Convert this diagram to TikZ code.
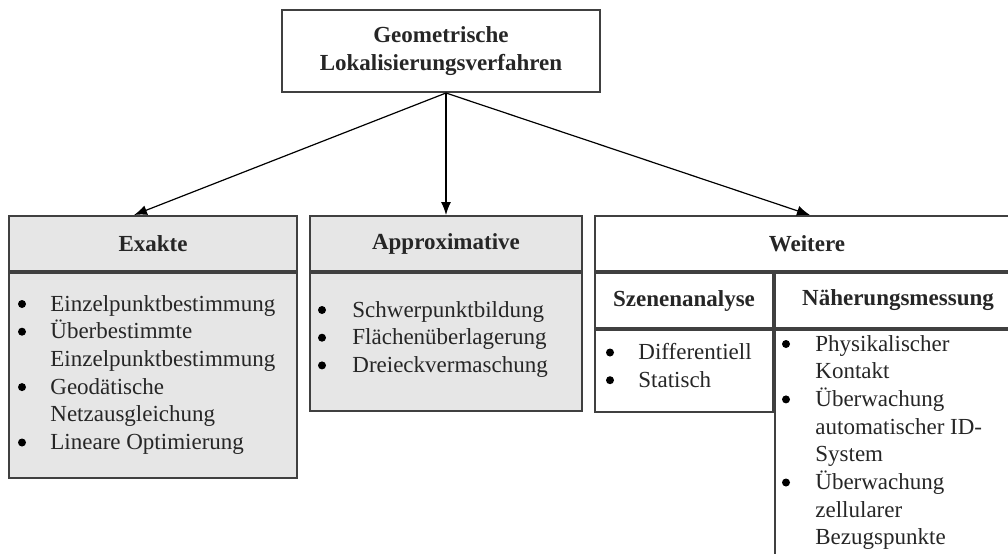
\documentclass[tikz,border=0pt]{standalone}
\usepackage{fontspec}
\setmainfont{Liberation Serif}
\usetikzlibrary{arrows.meta,positioning}
\definecolor{hellgrau}{HTML}{E6E6E6}
\begin{document}
\begin{tikzpicture}[x=0.5pt,y=-0.5pt,
  every node/.style={font=\fontsize{11.5}{14}\selectfont,text=black!85},
  rahmen/.style={draw=black!75,line width=1pt,inner sep=0pt},
  kasten/.style={rahmen,fill=hellgrau},
  kopf/.style={font=\fontsize{11.5}{14}\selectfont\bfseries},
  pfeil/.style={-{Latex[length=6.5pt,width=5pt]},line width=0.6pt},
  zeile/.style={anchor=base west,inner sep=0pt},
  punkt/.style={circle,fill=black,minimum size=4pt,inner sep=0pt}]
\useasboundingbox (0,0) rectangle (1008,553);
\clip (0,0) rectangle (1008,553);

% oberster Kasten
\node[rahmen,kopf,minimum width=159pt,minimum height=41pt,align=center] (geo) at (441,51) {Geometrische\\Lokalisierungsverfahren};

% Exakte
\node[kasten,kopf,minimum width=144pt,minimum height=27.5pt] (exakte) at (153,243.5) {Exakte};
\node[kasten,minimum width=144pt,minimum height=102.5pt,below=0pt of exakte] (exaktefeld) {};

% Approximative
\node[kasten,kopf,minimum width=136pt,minimum height=27.5pt] (approx) at (446,243.5) {Approximative};
\node[kasten,minimum width=136pt,minimum height=69pt,below=0pt of approx] (approxfeld) {};

% Weitere
\node[rahmen,kopf,minimum width=212pt,minimum height=27.5pt] (weitere) at (807,243.5) {Weitere};
\node[rahmen,kopf,minimum width=89pt,minimum height=27.5pt,anchor=north west] (szenen) at (weitere.south west) {Szenenanalyse};
\node[rahmen,kopf,minimum width=123pt,minimum height=27.5pt,anchor=north west] (naeherung) at (szenen.north east) {Näherungsmessung};
\node[rahmen,minimum width=89pt,minimum height=41pt,below=0pt of szenen] (szenenfeld) {};
\node[rahmen,minimum width=123pt,minimum height=150pt,below=0pt of naeherung] (naeherungfeld) {};

% Pfeile
\coordinate (abzweig) at ([xshift=2.5pt]geo.south);
\draw[pfeil] (abzweig) -- ([xshift=-9.5pt]exakte.north);
\draw[pfeil] (abzweig) -- (approx.north);
\draw[pfeil] (abzweig) -- ([xshift=1.5pt]weitere.north);

% Listen
\foreach \t [count=\i from 0] in {Einzelpunktbestimmung,Überbestimmte,Einzelpunktbestimmung,Geodätische,Netzausgleichung,Lineare Optimierung}
  \node[zeile] (ex-\i) at (50,311+27.7*\i) {\t};
\foreach \i in {0,1,3,5}
  \node[punkt] (expkt-\i) at (22,304+27.7*\i) {};

\foreach \t [count=\i from 0] in {Schwerpunktbildung,Flächenüberlagerung,Dreieckvermaschung}
  \node[zeile] (ap-\i) at (352,317+27.7*\i) {\t};
\foreach \i in {0,1,2}
  \node[punkt] (appkt-\i) at (322,310+27.7*\i) {};

\foreach \t [count=\i from 0] in {Differentiell,Statisch}
  \node[zeile] (sz-\i) at (638,359.5+27.7*\i) {\t};
\foreach \i in {0,1}
  \node[punkt] (szpkt-\i) at (610,352.5+27.7*\i) {};

\foreach \t [count=\i from 0] in {Physikalischer,Kontakt,Überwachung,automatischer ID-,System,Überwachung,zellularer,Bezugspunkte}
  \node[zeile] (nm-\i) at (815,351+27.7*\i) {\t};
\foreach \i in {0,2,5}
  \node[punkt] (nmpkt-\i) at (786,344+27.7*\i) {};
\end{tikzpicture}
\end{document}
